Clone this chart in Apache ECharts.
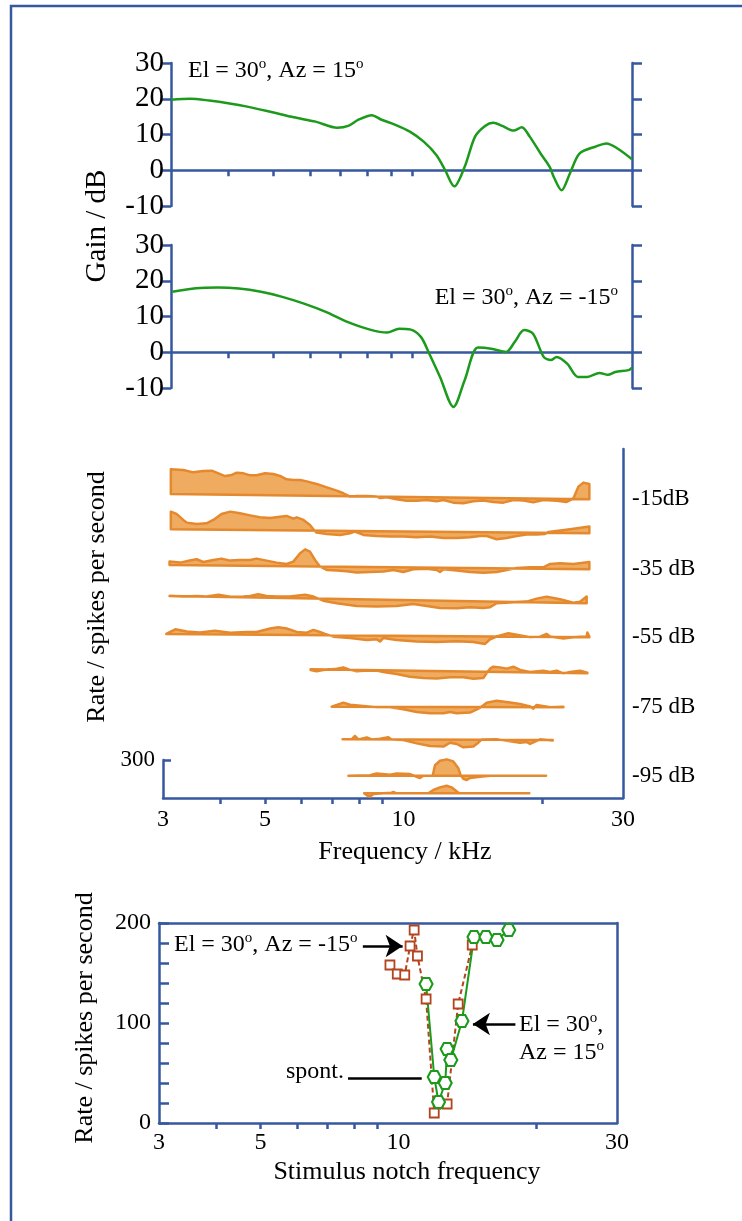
<!DOCTYPE html>
<html>
<head>
<meta charset="utf-8">
<script src="https://cdn.jsdelivr.net/npm/echarts@6/dist/echarts.min.js"></script>
<style>
html, body { margin: 0; padding: 0; background: #fff; }
#main { width: 742px; height: 1221px; }
</style>
</head>
<body>
<div id="main"></div>
<script>
// frequency axis ticks (kHz)
var freqTicks = [4, 5, 6, 7, 8, 9, 20];
var freqTicksTop = [4, 5, 6, 7, 8, 9, 10];
var freqLabels = [3, 5, 10, 30];

// head-related transfer functions, [kHz, dB]
var gainAz15 = [[3.0,19.7],[3.3,20.0],[3.63,19.5],[4.02,18.7],[4.39,17.8],[4.98,16.2],[5.54,14.8],[6.18,13.6],[6.88,11.9],[7.27,12.4],[7.67,14.2],[8.18,15.4],[8.56,14.2],[9.2,12.7],[9.89,10.8],[10.6,8.0],[11.3,4.2],[11.8,0],[12.35,-4.5],[13.0,0.9],[13.7,9.4],[14.4,12.4],[15.0,13.3],[15.7,12.4],[16.6,11.1],[17.3,12.0],[18.0,9.4],[19.0,4.7],[19.9,0.9],[20.3,-1.9],[21.1,-5.6],[22.0,-0.9],[23.1,4.7],[25.1,6.7],[26.4,7.5],[27.9,6.1],[30,3.1]];
var gainAzM15 = [[3.02,16.9],[3.4,17.9],[3.79,18.1],[4.21,17.8],[4.7,16.9],[5.23,15.5],[5.83,13.6],[6.5,11.3],[7.24,8.5],[8.07,6.4],[8.83,5.5],[9.38,6.6],[9.9,6.4],[10.45,4.3],[10.9,-0.4],[11.5,-6.9],[12.3,-15.3],[13.0,-7.9],[13.9,1.3],[14.85,1.0],[16.0,0.1],[16.7,2.9],[17.5,6.2],[18.3,5.2],[19.3,-1.3],[20.0,-2.2],[20.6,-1.3],[21.7,-3.2],[22.9,-6.9],[24.0,-6.9],[25.5,-5.8],[26.6,-6.3],[27.6,-5.5],[29.5,-5.0],[30,-4.3]];

// rate change from the mean, [kHz, spikes/s], one trace per level
var wave15 = [[3.12,195],[3.32,191],[3.49,173],[3.67,185],[3.83,188],[3.96,168],[4.09,147],[4.23,156],[4.34,175],[4.49,170],[4.64,155],[4.79,156],[5.0,173],[5.21,168],[5.39,153],[5.57,127],[5.76,123],[5.96,123],[6.16,113],[6.47,94],[6.81,68],[7.16,43],[7.4,23],[7.65,-3],[7.91,3],[8.32,4],[8.74,0],[8.89,-11],[9.19,-4],[9.66,-19],[10.16,-29],[10.68,-28],[11.23,-22],[11.81,-31],[12.21,-20],[12.83,-40],[13.49,-44],[14.18,-27],[14.91,-21],[15.68,-31],[16.48,-35],[17.33,-13],[18.22,-17],[19.15,-29],[20.14,-10],[21.53,-14],[22.63,-23],[23.4,4],[23.99,99],[24.6,131],[25.35,121]];
var wave25 = [[3.12,139],[3.21,122],[3.32,75],[3.38,54],[3.55,44],[3.73,50],[3.86,77],[4.02,125],[4.2,144],[4.41,132],[4.64,116],[4.87,102],[5.13,97],[5.39,108],[5.57,114],[5.76,93],[5.86,104],[6.06,84],[6.26,45],[6.37,11],[6.47,-15],[6.81,-25],[7.28,-32],[7.65,-18],[7.84,-5],[8.18,-30],[8.74,-37],[9.35,-41],[9.99,-40],[10.68,-45],[11.42,-38],[12.21,-48],[13.05,-47],[13.95,-40],[14.66,-29],[15.16,-29],[15.94,-54],[16.76,-43],[17.62,-27],[18.52,-15],[19.47,-14],[20.3,-9],[20.65,7],[23.01,30],[25.35,53]];
var wave35 = [[3.1,26],[3.27,19],[3.43,36],[3.55,47],[3.67,26],[3.86,43],[4.02,54],[4.2,39],[4.41,45],[4.64,46],[4.79,57],[5.04,42],[5.3,27],[5.57,17],[5.76,36],[5.96,103],[6.11,134],[6.26,117],[6.42,51],[6.58,0],[6.81,-27],[7.16,-31],[7.52,-36],[7.91,-45],[8.46,-39],[9.04,-35],[9.5,-21],[9.99,-36],[10.5,-14],[11.23,-8],[11.81,-18],[12.0,-33],[12.21,-12],[13.05,-21],[13.95,-31],[14.91,-35],[15.94,-29],[16.76,-12],[17.62,4],[18.84,11],[20.14,12],[20.82,39],[21.89,45],[23.4,41],[25.35,58]];
var wave45 = [[3.1,0],[3.32,-3],[3.55,4],[3.73,0],[3.96,17],[4.2,3],[4.49,5],[4.64,11],[4.83,26],[5.04,13],[5.3,10],[5.66,12],[6.11,29],[6.37,15],[6.69,-16],[7.16,-35],[7.91,-53],[8.74,-55],[9.66,-47],[10.5,-29],[11.23,-43],[12.0,-57],[13.05,-57],[13.95,-48],[14.91,-51],[15.42,-45],[15.94,-12],[17.04,-5],[18.52,5],[19.47,30],[20.47,47],[21.89,28],[23.4,3],[24.19,12],[25.01,53]];
var wave55 = [[3.05,0],[3.19,37],[3.38,20],[3.61,13],[3.89,29],[4.2,14],[4.56,21],[4.79,21],[5.13,49],[5.34,60],[5.57,50],[5.86,24],[6.16,19],[6.37,41],[6.58,25],[6.75,10],[7.04,-11],[7.65,-20],[8.32,-35],[8.74,-29],[8.89,-47],[9.04,-18],[9.66,-33],[10.68,-45],[11.81,-46],[13.05,-40],[14.18,-44],[15.04,-59],[15.42,-22],[15.94,0],[16.9,27],[17.62,16],[18.84,-4],[19.8,1],[20.47,24],[20.82,3],[22.26,-12],[23.4,-1],[25.01,5],[25.1,37],[25.35,5]];
var wave65 = [[6.28,-5],[6.47,-15],[6.69,-4],[7.16,8],[7.4,19],[7.65,0],[7.91,-11],[8.32,-4],[8.74,-3],[9.04,-13],[9.66,-27],[10.33,-47],[11.04,-56],[11.81,-59],[12.62,-47],[13.49,-46],[14.18,-55],[14.91,-49],[15.16,-12],[15.42,26],[15.68,42],[16.21,37],[16.76,28],[17.33,44],[17.92,19],[18.84,4],[20.14,16],[20.82,6],[21.53,18],[22.26,-3],[23.01,8],[24.19,20],[25.1,5]];
var wave75 = [[6.98,0],[7.16,13],[7.4,32],[7.65,16],[8.18,6],[8.74,-4],[9.35,-4],[9.99,-19],[10.68,-40],[11.42,-50],[12.21,-50],[12.62,-39],[13.05,-50],[13.95,-44],[14.66,-7],[15.16,35],[15.94,51],[17.04,36],[17.92,25],[18.84,5],[19.15,-11],[19.47,18],[20.82,0],[22.26,5]];
var wave85 = [[7.37,0],[7.71,0],[7.84,27],[7.98,0],[8.32,16],[8.53,0],[8.89,6],[9.27,17],[9.42,0],[9.99,-4],[10.68,-30],[11.42,-51],[12.21,-55],[12.62,-24],[13.05,-34],[13.49,-60],[14.18,-54],[14.54,-23],[14.79,3],[15.94,4],[17.04,-12],[17.92,-22],[18.52,-16],[18.84,-32],[19.8,5],[21.1,-5]];
var wave95 = [[7.59,0],[8.46,3],[8.74,18],[9.35,8],[9.66,18],[10.33,13],[10.68,-8],[10.86,-18],[11.04,0],[11.57,0],[11.71,84],[12.0,118],[12.41,129],[12.83,113],[13.16,58],[13.31,3],[13.49,-24],[13.72,-34],[13.95,-18],[14.66,-8],[15.42,0],[20.41,0]];
var waveSpont = [[8.21,0],[8.32,-16],[8.46,-26],[8.6,-5],[9.04,0],[9.42,5],[9.5,11],[9.66,0],[11.32,0],[11.61,26],[12.0,47],[12.41,60],[12.72,47],[13.16,5],[13.27,0],[18.77,0]];

var levelNames = ['-15dB', '-35 dB', '-55 dB', '-75 dB', '-95 dB'];
var rateTicks = [300];

// notch tuning, [notch kHz, spikes/s]
var notchAzM15 = [[9.58,158],[9.94,149],[10.32,148],[10.6,177],[10.82,193],[11.0,167],[11.49,124],[11.97,10],[12.77,19],[13.5,119],[14.49,178]];
var notchAz15 = [[11.49,139],[11.97,46],[12.23,21],[12.65,40],[12.77,74],[13.01,63],[13.76,102],[14.62,186],[15.52,186],[16.41,183],[17.41,193]];

// layout: where each trace's zero line sits on the stacked axis (left end, right end)
var waves = [wave15, wave25, wave35, wave45, wave55, wave65, wave75, wave85, wave95, waveSpont];
var waveBase = [[2400,2358],[2121,2090],[1840,1805],[1595,1537],[1295,1269],[1016,984],[721,716],[463,458],[176,176],[37,37]];
var levelAt = [2358, 1805, 1269, 716, 176];

var serif = '"Liberation Serif", "Times New Roman", serif';
var blue = '#36589e';
var green = '#1b9a1b';
var brick = '#b4441e';
var orangeFill = '#efab5f';
var orangeLine = '#e5892e';

var chart = echarts.init(document.getElementById('main'));

function gridAt(left, right, top, height) {
  return { left: left, right: right, top: top, height: height, containLabel: false, outerBoundsMode: 'none' };
}

function freqAxis(grid, ticks, labels, extra) {
  var ax = {
    type: 'log', logBase: 10, min: 3, max: 30, gridIndex: grid,
    axisLine: { show: true, onZero: false, lineStyle: { color: blue, width: 2.5 } },
    axisTick: { show: !!ticks, customValues: ticks || [], length: 6, inside: false, lineStyle: { color: blue, width: 2.5 } },
    axisLabel: { show: !!labels, customValues: labels || [], fontSize: 24, color: '#000', fontFamily: serif, margin: 10 },
    splitLine: { show: false }, minorTick: { show: false }
  };
  return Object.assign(ax, extra || {});
}

function gainAxis(grid, pos, labels) {
  return {
    type: 'value', gridIndex: grid, position: pos, min: -10, max: 30, interval: 10,
    axisLine: { show: true, onZero: false, lineStyle: { color: blue, width: 2.5 } },
    axisTick: { show: true, inside: false, length: 10, lineStyle: { color: blue, width: 2.5 } },
    axisLabel: { show: labels, fontSize: 29, color: '#000', fontFamily: serif, margin: 7 },
    splitLine: { show: false }
  };
}

function wavePainter(points, base) {
  return function (params, api) {
    if (params.dataIndex !== 0) return null;
    var n = points.length;
    var b0 = api.coord([points[0][0], base[0]]);
    var b1 = api.coord([points[n - 1][0], base[1]]);
    var ring = [];
    for (var i = 0; i < n; i++) {
      var x = api.coord([points[i][0], base[0]])[0];
      var t = (x - b0[0]) / (b1[0] - b0[0]);
      var lvl = base[0] + (base[1] - base[0]) * t;
      ring.push(api.coord([points[i][0], lvl + points[i][1]]));
    }
    ring.push(b1, b0);
    return {
      type: 'polygon', shape: { points: ring },
      style: { fill: orangeFill, stroke: orangeLine, lineWidth: 2.5, lineJoin: 'round' }
    };
  };
}

function sup(text) {
  return text.replace(/\^o/g, '{s|o}');
}
function supRich(size) {
  return { s: { fontSize: Math.round(size * 0.62), lineHeight: Math.round(size * 0.55), verticalAlign: 'top', fontFamily: serif, fill: '#000' } };
}
function note(x, y, text, size, align) {
  return { type: 'text', x: x, y: y, silent: true,
    style: { text: sup(text), rich: supRich(size), fontSize: size, lineHeight: size + 4, fontFamily: serif, fill: '#000', align: align, verticalAlign: 'middle' } };
}
function title(x, y, text, size, rot) {
  return { type: 'text', x: x, y: y, rotation: rot ? Math.PI / 2 : 0, silent: true,
    style: { text: text, fontSize: size, fontFamily: serif, fill: '#000', align: 'center', verticalAlign: 'middle' } };
}

var series = [
  { type: 'line', xAxisIndex: 0, yAxisIndex: 0, data: gainAz15, smooth: 0.3, showSymbol: false, clip: false,
    lineStyle: { color: green, width: 2.5 } },
  { type: 'line', xAxisIndex: 1, yAxisIndex: 2, data: gainAzM15, smooth: 0.3, showSymbol: false, clip: false,
    lineStyle: { color: green, width: 2.5 } }
];
waves.forEach(function (w, k) {
  series.push({ type: 'custom', xAxisIndex: 2, yAxisIndex: 4, data: w, clip: false, silent: true,
    renderItem: wavePainter(w, waveBase[k]) });
});
series.push({
  type: 'line', xAxisIndex: 4, yAxisIndex: 7, data: notchAzM15, symbol: 'rect', symbolSize: 9,
  lineStyle: { color: brick, width: 2, type: [5, 3] },
  itemStyle: { color: '#fff', borderColor: brick, borderWidth: 1.8 }
});
series.push({
  type: 'line', xAxisIndex: 4, yAxisIndex: 7, data: notchAz15,
  symbol: 'path://M-1,0 L-0.5,-0.866 L0.5,-0.866 L1,0 L0.5,0.866 L-0.5,0.866 Z', symbolSize: [13, 12],
  lineStyle: { color: green, width: 2 },
  itemStyle: { color: '#fff', borderColor: green, borderWidth: 2 }
});
// pointers to the two curves and the spontaneous rate
series.push({
  type: 'line', xAxisIndex: 4, yAxisIndex: 7, data: [], color: '#000',
  itemStyle: { color: '#000' },
  markLine: {
    silent: true, symbol: ['none', 'arrow'], symbolSize: 17, label: { show: false },
    itemStyle: { color: '#000' },
    lineStyle: { color: '#000', width: 2.5, type: 'solid' },
    data: [
      [{ coord: [8.36, 177] }, { coord: [10.21, 177] }],
      [{ coord: [18.0, 99] }, { coord: [14.54, 99] }],
      [{ coord: [7.76, 45], symbol: 'none' }, { coord: [11.24, 45], symbol: 'none' }]
    ]
  }
});

var option = {
  animation: false,
  backgroundColor: '#fff',
  textStyle: { fontFamily: serif },
  grid: [
    gridAt(171, 110, 63, 143),
    gridAt(171, 110, 245, 143),
    gridAt(163, 119, 449, 349),
    gridAt(163, 119, 760, 38),
    gridAt(159, 125, 923, 200)
  ],
  xAxis: [
    freqAxis(0, freqTicksTop, null, { axisLine: { show: true, onZero: true, lineStyle: { color: blue, width: 2.5 } } }),
    freqAxis(1, freqTicksTop, null, { axisLine: { show: true, onZero: true, lineStyle: { color: blue, width: 2.5 } } }),
    freqAxis(2, freqTicks, freqLabels),
    freqAxis(3, null, null, { show: false }),
    freqAxis(4, freqTicks, freqLabels, { axisLabel: { show: true, customValues: freqLabels, fontSize: 24, color: '#000', fontFamily: serif, margin: 8 } }),
    freqAxis(4, null, null, { position: 'top' })
  ],
  yAxis: [
    gainAxis(0, 'left', true),
    gainAxis(0, 'right', false),
    gainAxis(1, 'left', true),
    gainAxis(1, 'right', false),
    { type: 'value', gridIndex: 2, min: 0, max: 2755, show: false },
    { type: 'value', gridIndex: 2, position: 'right', min: 0, max: 2755,
      axisLine: { show: true, onZero: false, lineStyle: { color: blue, width: 2.5 } },
      axisTick: { show: false }, splitLine: { show: false },
      axisLabel: { show: true, customValues: levelAt, margin: 9, fontSize: 23, color: '#000', fontFamily: serif,
        formatter: function (v) { return levelNames[levelAt.indexOf(v)] || ''; } } },
    { type: 'value', gridIndex: 3, min: 0, max: 300, interval: 300,
      axisLine: { show: true, onZero: false, lineStyle: { color: blue, width: 2.5 } },
      axisTick: { show: true, inside: true, length: 8, customValues: rateTicks, lineStyle: { color: blue, width: 2.5 } },
      axisLabel: { show: true, customValues: rateTicks, margin: 8, fontSize: 23, color: '#000', fontFamily: serif },
      splitLine: { show: false } },
    { type: 'value', gridIndex: 4, min: 0, max: 200, interval: 20,
      axisLine: { show: true, onZero: false, lineStyle: { color: blue, width: 2.5 } },
      axisTick: { show: true, inside: true, length: 10, lineStyle: { color: blue, width: 2.5 } },
      axisLabel: { show: true, margin: 8, fontSize: 24, color: '#000', fontFamily: serif,
        formatter: function (v) { return v % 100 === 0 ? String(v) : ''; } },
      splitLine: { show: false } },
    { type: 'value', gridIndex: 4, position: 'right', min: 0, max: 200,
      axisLine: { show: true, onZero: false, lineStyle: { color: blue, width: 2.5 } },
      axisTick: { show: false }, axisLabel: { show: false }, splitLine: { show: false } }
  ],
  graphic: [
    { type: 'rect', shape: { x: 11, y: 6, width: 780, height: 1280 }, silent: true,
      style: { fill: 'none', stroke: blue, lineWidth: 2.5 } },
    title(97, 226, 'Gain / dB', 29, true),
    title(97, 597, 'Rate / spikes per second', 26, true),
    title(85, 1018, 'Rate / spikes per second', 26, true),
    title(405, 852, 'Frequency / kHz', 26, false),
    title(407, 1172, 'Stimulus notch frequency', 26, false),
    note(188, 71, 'El = 30^o, Az = 15^o', 24, 'left'),
    note(618, 298, 'El = 30^o, Az = -15^o', 24, 'right'),
    note(174, 945, 'El = 30^o, Az = -15^o', 24, 'left'),
    note(519, 1025, 'El = 30^o,', 24, 'left'),
    note(519, 1053, 'Az = 15^o', 24, 'left'),
    { type: 'text', x: 344, y: 1072, silent: true,
      style: { text: 'spont.', fontSize: 24, fontFamily: serif, fill: '#000', align: 'right', verticalAlign: 'middle' } }
  ],
  series: series
};

chart.setOption(option);
</script>
</body>
</html>
